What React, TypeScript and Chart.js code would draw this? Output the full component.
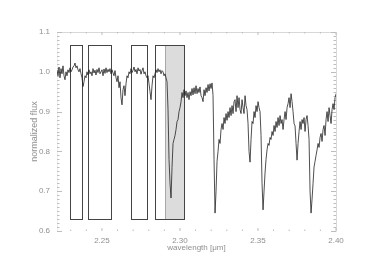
import React, { useEffect, useRef } from "react";
import { Chart, registerables } from "chart.js";

Chart.register(...registerables);

// Spectrum sampling (uniform dispersion grid)
const WL_START = 2.2212;
const WL_STEP = 0.000641;

// Normalized flux values
const FLUX = [
  1.005, 0.99, 1.012, 0.985, 1.008, 0.995, 1.015, 0.99, 0.98, 1.0,
  0.99, 1.005, 0.998, 1.01, 1.0, 1.005, 1.012, 1.015, 1.022, 1.01,
  1.015, 1.005, 1.0, 1.008, 0.995, 0.985, 0.963, 0.975, 0.99, 0.985,
  1.0, 0.992, 1.005, 0.995, 1.0, 0.99, 1.008, 0.997, 1.004, 0.992,
  1.006, 0.998, 1.01, 0.995, 1.0, 1.005, 0.99, 1.007, 0.996, 1.01,
  0.998, 1.006, 1.0, 1.008, 0.995, 1.005, 0.997, 0.99, 1.003, 0.985,
  0.975, 0.99, 0.96, 0.975, 0.935, 0.917, 0.955, 0.965, 0.94, 0.97,
  0.99, 0.985, 1.0, 0.995, 1.008, 0.998, 1.004, 1.012, 1.0, 1.006,
  0.995, 1.01, 1.002, 1.006, 0.994, 1.003, 1.01, 0.995, 1.0, 0.99,
  0.985, 0.99, 0.97, 0.95, 0.93, 0.965, 0.99, 0.985, 0.995, 1.005,
  0.998, 1.008, 1.0, 1.005, 0.995, 1.003, 1.0, 0.99, 0.995, 0.985,
  0.975, 0.905, 0.78, 0.72, 0.683, 0.76, 0.82, 0.83, 0.84, 0.855,
  0.875, 0.88, 0.9, 0.91, 0.925, 0.948, 0.935, 0.955, 0.94, 0.952,
  0.935, 0.948, 0.93, 0.95, 0.94, 0.958, 0.942, 0.96, 0.945, 0.965,
  0.945, 0.958, 0.948, 0.962, 0.94, 0.935, 0.925, 0.955, 0.94, 0.96,
  0.948, 0.968, 0.952, 0.97, 0.958, 0.972, 0.94, 0.78, 0.645, 0.7,
  0.775, 0.8, 0.83, 0.82, 0.855, 0.87, 0.855, 0.885, 0.87, 0.895,
  0.878, 0.9, 0.885, 0.91, 0.89, 0.915, 0.895, 0.925, 0.93, 0.9,
  0.94, 0.91, 0.935, 0.905, 0.895, 0.93, 0.91, 0.895, 0.94, 0.915,
  0.905, 0.87, 0.8, 0.773, 0.83, 0.875, 0.87, 0.9, 0.885, 0.915,
  0.9, 0.925, 0.91, 0.9, 0.84, 0.72, 0.653, 0.7, 0.746, 0.78,
  0.804, 0.82, 0.815, 0.835, 0.83, 0.85, 0.84, 0.865, 0.85, 0.875,
  0.86, 0.885, 0.865, 0.89, 0.87, 0.88, 0.855, 0.88, 0.9, 0.88,
  0.91, 0.92, 0.935, 0.91, 0.945, 0.925, 0.9, 0.87, 0.864, 0.82,
  0.778, 0.82, 0.85, 0.875, 0.855, 0.88, 0.87, 0.885, 0.85, 0.88,
  0.89, 0.865, 0.83, 0.7, 0.645, 0.68, 0.72, 0.761, 0.775, 0.79,
  0.804, 0.82, 0.81, 0.835, 0.845, 0.825, 0.855, 0.865, 0.84, 0.88,
  0.9, 0.875, 0.91, 0.89, 0.87, 0.905, 0.92, 0.905, 0.935, 0.945,
];

const X_MIN = 2.2212;
const X_MAX = 2.4;
const Y_MIN = 0.6;
const Y_MAX = 1.1;
const X_TICKS = [2.25, 2.3, 2.35, 2.4];
const Y_TICKS = [0.6, 0.7, 0.8, 0.9, 1.0, 1.1];
const X_MINOR_STEP = 0.01;
const Y_MINOR_STEP = 0.01;

// Spectral windows (boxes)
const BOX_STARTS = [2.2297, 2.2412, 2.2684, 2.2843];
const BOX_ENDS = [2.2372, 2.256, 2.2787, 2.3024];
const BOX_BOTTOM = 0.63;
const BOX_TOP = 1.067;
const SHADE_START = 2.2901;
const SHADE_END = 2.3024;

const FONT = "'Liberation Sans', Arial, sans-serif";
const TEXT = "#8f8f8f";

const decorPlugin = {
  id: "decor",
  beforeDatasetsDraw(chart: any) {
    const { ctx, chartArea: a, scales } = chart;
    const x = scales.x;
    const y = scales.y;
    ctx.save();
    const yt = Math.round(y.getPixelForValue(BOX_TOP)) + 0.5;
    const yb = Math.round(y.getPixelForValue(BOX_BOTTOM)) + 0.5;
    // shaded window
    const s0 = Math.round(x.getPixelForValue(SHADE_START)) + 0.5;
    const s1 = Math.round(x.getPixelForValue(SHADE_END)) + 0.5;
    ctx.fillStyle = "#dcdcdc";
    ctx.fillRect(s0, yt, s1 - s0, yb - yt);
    ctx.strokeStyle = "#a8a8a8";
    ctx.lineWidth = 1;
    ctx.beginPath();
    ctx.moveTo(s0, yt);
    ctx.lineTo(s0, yb);
    ctx.stroke();
    // boxes
    ctx.strokeStyle = "#444";
    for (let i = 0; i < BOX_STARTS.length; i++) {
      const x0 = Math.round(x.getPixelForValue(BOX_STARTS[i])) + 0.5;
      const x1 = Math.round(x.getPixelForValue(BOX_ENDS[i])) + 0.5;
      ctx.strokeRect(x0, yt, x1 - x0, yb - yt);
    }
    // frame
    const L = Math.round(a.left) + 0.5;
    const R = Math.round(a.right) + 0.5;
    const T = Math.round(a.top) + 0.5;
    const B = Math.round(a.bottom) + 0.5;
    ctx.strokeStyle = "#d8d8d8";
    ctx.beginPath();
    ctx.moveTo(L, T);
    ctx.lineTo(R, T);
    ctx.lineTo(R, B);
    ctx.stroke();
    ctx.strokeStyle = "#efefef";
    ctx.beginPath();
    ctx.moveTo(L, T);
    ctx.lineTo(L, B);
    ctx.stroke();
    // y ticks (left and right, inward)
    ctx.strokeStyle = "#bdbdbd";
    for (let v = Y_MIN; v <= Y_MAX + 1e-9; v += Y_MINOR_STEP) {
      const vv = Math.round(v * 100) / 100;
      const major = Y_TICKS.some((t) => Math.abs(t - vv) < 1e-6);
      const py = Math.round(y.getPixelForValue(vv)) + 0.5;
      const len = major ? 5 : 2.5;
      ctx.beginPath();
      ctx.moveTo(a.left, py);
      ctx.lineTo(a.left + len, py);
      ctx.moveTo(a.right, py);
      ctx.lineTo(a.right - len, py);
      ctx.stroke();
    }
    // x ticks (top and bottom, inward)
    for (let v = 2.23; v <= X_MAX + 1e-9; v += X_MINOR_STEP) {
      const vv = Math.round(v * 100) / 100;
      const major = X_TICKS.some((t) => Math.abs(t - vv) < 1e-6);
      const px = x.getPixelForValue(vv);
      const len = major ? 3 : 1.5;
      ctx.beginPath();
      ctx.moveTo(px, a.top);
      ctx.lineTo(px, a.top + len);
      ctx.moveTo(px, a.bottom);
      ctx.lineTo(px, a.bottom - len);
      ctx.stroke();
    }
    ctx.restore();
  },
};

export default function App() {
  const ref = useRef<HTMLCanvasElement | null>(null);
  useEffect(() => {
    document.body.style.margin = "0";
    const points = FLUX.map((f, i) => ({ x: WL_START + i * WL_STEP, y: f }));
    const chart = new Chart(ref.current as HTMLCanvasElement, {
      type: "line",
      data: {
        datasets: [
          {
            data: points,
            borderColor: "#222",
            borderWidth: 0.8,
            pointRadius: 0,
            tension: 0,
            fill: false,
          },
        ],
      },
      options: {
        animation: false,
        responsive: false,
        events: [],
        layout: { padding: { top: 32, right: 38, left: 29, bottom: 27 } },
        plugins: { legend: { display: false }, tooltip: { enabled: false } },
        scales: {
          x: {
            type: "linear",
            min: X_MIN,
            max: X_MAX,
            grid: { display: false, drawTicks: false },
            border: { display: false },
            afterBuildTicks: (s: any) => {
              s.ticks = X_TICKS.map((v) => ({ value: v }));
            },
            afterFit: (s: any) => {
              s.height = 22;
            },
            ticks: {
              padding: 5,
              color: TEXT,
              font: { family: FONT, size: 8 },
              maxRotation: 0,
              callback: (v: any) => Number(v).toFixed(2),
            },
            title: {
              display: true,
              text: "wavelength [μm]",
              color: TEXT,
              font: { family: FONT, size: 8 },
              padding: 0,
            },
          },
          y: {
            type: "linear",
            min: Y_MIN,
            max: Y_MAX,
            grid: { display: false, drawTicks: false },
            border: { display: false },
            afterBuildTicks: (s: any) => {
              s.ticks = Y_TICKS.map((v) => ({ value: v }));
            },
            afterFit: (s: any) => {
              s.width = 28;
            },
            ticks: {
              padding: 7,
              color: TEXT,
              font: { family: FONT, size: 8 },
              callback: (v: any) => Number(v).toFixed(1),
            },
            title: {
              display: true,
              text: "normalized flux",
              color: TEXT,
              font: { family: FONT, size: 9 },
              padding: 0,
            },
          },
        },
      },
      plugins: [decorPlugin],
    });
    return () => chart.destroy();
  }, []);
  return (
    <div style={{ width: 374, height: 280 }}>
      <canvas ref={ref} width={374} height={280} style={{ display: "block" }} />
    </div>
  );
}
